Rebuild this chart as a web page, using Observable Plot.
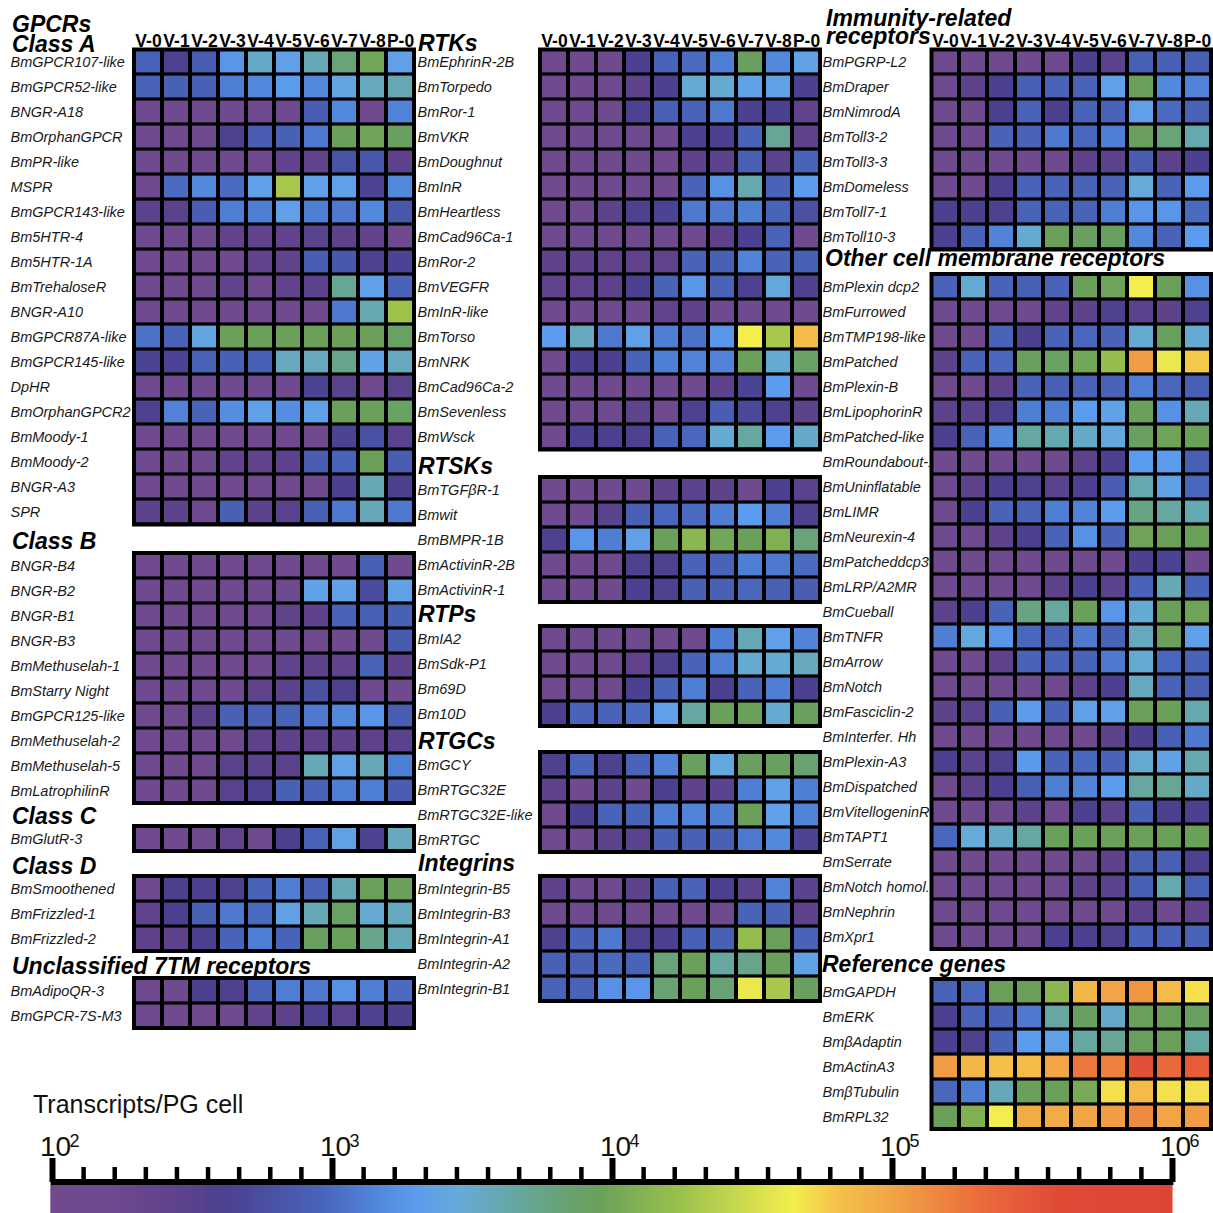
<!DOCTYPE html>
<html><head><meta charset="utf-8">
<script src="https://cdn.jsdelivr.net/npm/d3@7"></script>
<script src="https://cdn.jsdelivr.net/npm/@observablehq/plot@0.6"></script>
<style>
html,body{margin:0;padding:0;background:#fff;}
#root{position:relative;width:1213px;height:1213px;overflow:hidden;font-family:"Liberation Sans",Arial,Helvetica,sans-serif;background:#fff;}
.hd{position:absolute;font-weight:bold;font-style:italic;white-space:nowrap;color:#000;}
#root svg{position:absolute;}
</style></head><body><div id="root"></div>
<script>
// ---------- DATA (transcripts per PG cell) ----------
const stages = ["V-0","V-1","V-2","V-3","V-4","V-5","V-6","V-7","V-8","P-0"];

const classAGenes = ["BmGPCR107-like","BmGPCR52-like","BNGR-A18","BmOrphanGPCR","BmPR-like","MSPR","BmGPCR143-like","Bm5HTR-4","Bm5HTR-1A","BmTrehaloseR","BNGR-A10","BmGPCR87A-like","BmGPCR145-like","DpHR","BmOrphanGPCR2","BmMoody-1","BmMoody-2","BNGR-A3","SPR"];
const classAValues = [
  [900,380,800,1800,3200,2200,3800,6500,10000,2200],
  [900,850,850,1300,1500,2000,1500,2500,3500,3800],
  [140,140,140,140,140,150,800,1500,160,1400],
  [140,140,150,400,800,850,1200,9000,9500,8500],
  [140,140,140,140,150,250,250,650,700,280],
  [150,1000,1500,1000,2200,20000,2200,2200,450,1500],
  [300,300,800,1300,1300,2200,1300,1200,1500,700],
  [140,140,140,250,250,250,300,280,250,150],
  [140,140,140,150,250,250,800,700,400,450],
  [140,140,140,250,160,250,300,5000,2200,900],
  [140,140,140,140,140,150,160,1200,4000,18000],
  [1100,900,2500,9000,9000,9000,9000,9000,9000,8000],
  [450,450,900,850,850,3500,3500,5500,2300,3500],
  [140,140,140,140,150,150,450,300,160,300],
  [400,1400,900,1600,2200,1600,2200,9000,9000,8000],
  [140,140,140,140,140,150,160,450,600,300],
  [140,140,140,250,250,280,800,900,9000,800],
  [140,140,140,140,140,150,160,420,3800,420],
  [280,280,150,850,280,300,850,1200,3800,1200]
];

const classBGenes = ["BNGR-B4","BNGR-B2","BNGR-B1","BNGR-B3","BmMethuselah-1","BmStarry Night","BmGPCR125-like","BmMethuselah-2","BmMethuselah-5","BmLatrophilinR"];
const classBValues = [
  [140,140,140,140,140,140,150,150,850,160],
  [140,140,140,140,140,150,2300,2300,550,2300],
  [140,140,140,140,150,250,280,900,850,850],
  [140,140,140,140,140,140,150,150,160,750],
  [140,140,140,140,150,260,280,270,900,280],
  [140,140,140,150,270,280,600,400,160,150],
  [140,140,300,850,850,900,1200,1500,1800,800],
  [140,140,140,150,280,280,280,280,280,300],
  [140,140,150,300,300,300,3800,2300,3800,1300],
  [140,140,150,300,400,850,900,1300,1300,800]
];

const classCGenes = ["BmGlutR-3"];
const classCValues = [[140,140,150,260,160,420,900,2300,450,3500]];

const classDGenes = ["BmSmoothened","BmFrizzled-1","BmFrizzled-2"];
const classDValues = [
  [150,420,420,400,900,1300,900,3800,9000,9000],
  [260,420,850,1200,1000,2300,3800,8000,3000,3500],
  [280,280,420,900,1300,900,8500,9000,5500,3800]
];

const unclassGenes = ["BmAdipoQR-3","BmGPCR-7S-M3"];
const unclassValues = [
  [150,150,420,380,900,1300,1200,1700,1300,1000],
  [140,140,140,150,260,280,400,300,400,420]
];

const rtkGenes = ["BmEphrinR-2B","BmTorpedo","BmRor-1","BmVKR","BmDoughnut","BmInR","BmHeartless","BmCad96Ca-1","BmRor-2","BmVEGFR","BmInR-like","BmTorso","BmNRK","BmCad96Ca-2","BmSevenless","BmWsck"];
const rtkValues = [
  [140,150,150,420,900,1000,1300,8500,1500,2300],
  [140,150,150,280,420,3000,3000,2300,2300,420],
  [140,140,150,400,850,900,1200,420,420,260],
  [140,140,140,140,150,420,420,900,5000,280],
  [140,140,140,140,150,280,280,850,300,900],
  [140,140,140,140,150,900,1700,4000,900,2000],
  [140,150,280,400,450,1200,1200,1300,900,600],
  [140,140,140,140,140,150,280,420,900,160],
  [280,280,260,260,270,900,850,1400,900,850],
  [260,260,280,420,900,1800,900,400,2700,400],
  [140,140,140,140,260,280,160,150,160,150],
  [2000,3500,1200,2200,1300,1100,1800,45000,20000,70000],
  [150,420,420,900,1300,1400,1400,9000,3000,8000],
  [140,140,140,140,150,150,280,450,2000,160],
  [140,140,150,270,160,400,800,500,400,280],
  [150,420,420,400,900,950,3000,4500,2000,3200]
];

const rtskGenes = ["BmTGFβR-1","Bmwit","BmBMPR-1B","BmActivinR-2B","BmActivinR-1"];
const rtskValues = [
  [140,140,140,150,280,300,280,160,420,300],
  [140,150,300,850,950,1000,1300,2000,1300,400],
  [400,1800,1300,2200,9000,14000,10000,9000,12000,6500],
  [150,150,160,400,400,900,900,1300,1200,1000],
  [150,150,160,420,400,850,850,950,850,800]
];

const rtpGenes = ["BmIA2","BmSdk-P1","Bm69D","Bm10D"];
const rtpValues = [
  [140,140,140,140,150,160,1300,3800,2200,1400],
  [140,140,150,260,400,900,1300,3000,3000,3500],
  [140,140,150,420,900,1300,420,900,1300,420],
  [420,900,900,1000,2200,4500,9000,9000,3000,8500]
];

const rtgcGenes = ["BmGCY","BmRTGC32E","BmRTGC32E-like","BmRTGC"];
const rtgcValues = [
  [400,900,400,900,1400,8500,2600,8500,8500,7000],
  [280,150,280,160,420,280,300,1300,2200,1300],
  [160,420,900,900,1300,1400,1300,9000,2200,1400],
  [150,150,280,300,850,850,850,1200,1500,450]
];

const integrinGenes = ["BmIntegrin-B5","BmIntegrin-B3","BmIntegrin-A1","BmIntegrin-A2","BmIntegrin-B1"];
const integrinValues = [
  [280,160,160,280,850,900,420,300,1400,300],
  [140,140,140,140,140,150,150,900,900,280],
  [400,900,1200,400,420,850,850,16000,9000,900],
  [850,850,1000,900,6500,9000,4500,5500,9000,2300],
  [900,900,1700,1800,7000,9000,7000,40000,20000,8500]
];

const immuneGenes = ["BmPGRP-L2","BmDraper","BmNimrodA","BmToll3-2","BmToll3-3","BmDomeless","BmToll7-1","BmToll10-3"];
const immuneValues = [
  [140,140,140,140,150,420,300,850,850,850],
  [150,280,420,850,900,900,2200,9000,1500,1400],
  [150,160,420,900,420,900,900,2200,1000,900],
  [150,160,900,900,1200,950,1300,8500,6500,4000],
  [140,140,140,150,150,280,300,800,280,420],
  [150,160,420,900,900,900,900,2800,900,2000],
  [420,420,400,900,900,900,1300,1800,1800,1000],
  [420,900,1400,3000,9000,8500,8500,1500,900,2000]
];

const otherGenes = ["BmPlexin dcp2","BmFurrowed","BmTMP198-like","BmPatched","BmPlexin-B","BmLipophorinR","BmPatched-like","BmRoundabout-1","BmUninflatable","BmLIMR","BmNeurexin-4","BmPatcheddcp3","BmLRP/A2MR","BmCueball","BmTNFR","BmArrow","BmNotch","BmFasciclin-2","BmInterfer. Hh","BmPlexin-A3","BmDispatched","BmVitellogeninR","BmTAPT1","BmSerrate","BmNotch homol.","BmNephrin","BmXpr1"];
const otherValues = [
  [900,3000,900,850,900,9000,9500,45000,9000,1700],
  [140,140,150,150,260,280,400,300,280,400],
  [150,150,900,420,900,950,900,3000,8500,3000],
  [280,900,950,8500,8000,10000,16000,110000,40000,60000],
  [150,160,280,900,850,900,900,1300,950,850],
  [280,300,400,1300,1300,2000,2300,9000,1700,3800],
  [420,900,1500,4500,4000,3200,2600,8500,9500,9000],
  [140,140,140,150,150,280,420,2000,2000,850],
  [150,280,420,400,300,420,800,4000,2300,950],
  [150,420,900,900,1300,1400,2000,6000,4500,4000],
  [150,150,280,420,900,1700,900,9500,9000,9000],
  [140,140,140,140,150,150,160,420,450,160],
  [140,140,140,150,280,420,300,900,3800,900],
  [280,420,900,6000,4500,9000,1800,3000,9000,9500],
  [1300,2600,1800,950,900,1200,900,3500,9000,2200],
  [150,160,280,900,900,900,1200,3000,950,900],
  [140,140,140,150,150,280,420,3500,900,850],
  [280,300,850,2000,900,2200,2200,9000,9000,4000],
  [140,140,140,140,150,150,280,420,850,1200],
  [420,300,400,1900,900,950,900,3000,2300,4000],
  [150,280,420,850,1300,1400,2000,4500,5000,3200],
  [140,140,150,280,160,420,300,850,420,420],
  [950,2800,3300,4500,9000,9000,9000,9000,9000,9000],
  [140,140,140,140,140,150,280,850,850,400],
  [140,140,140,140,150,280,300,850,4000,850],
  [140,140,140,140,140,150,160,280,160,260],
  [140,140,150,160,420,420,400,900,900,900]
];

const refGenes = ["BmGAPDH","BmERK","BmβAdaptin","BmActinA3","BmβTubulin","BmRPL32"];
const refValues = [
  [900,950,9000,9000,14000,75000,100000,120000,70000,50000],
  [420,900,900,1200,4500,8500,3200,9000,9000,8500],
  [420,400,900,2000,2200,4500,5000,8500,9000,4500],
  [110000,75000,65000,70000,100000,180000,160000,350000,220000,280000],
  [950,1300,3800,9000,9000,11000,50000,70000,50000,50000],
  [9000,12000,45000,90000,90000,100000,110000,140000,100000,110000]
];

// colour bar ticks
const majorExps = [2,3,4,5,6];
const tickBase = "10";
const tickExpLabels = ["2","3","4","5","6"];

// ---------- COLOUR RAMP ----------
const expStops = [2.0,2.2,2.45,2.63,2.96,3.13,3.3,3.45,3.6,3.75,3.95,4.25,4.65,4.8,5.0,5.3,5.6,6.0];
const colStops = ["#714a8e","#6f4a8f","#5e428c","#4b4191","#4864b9","#5082d7","#5c9cee","#65aad8","#66a8b0","#68a488","#6aa05a","#9cc24c","#f4ee4e","#f4c24a","#f2a546","#eb6e3c","#e04a36","#de4535"];
const pw = d3.scaleLinear().domain(expStops).range(colStops).interpolate(d3.interpolateRgb).clamp(true);
const interp = (t) => pw(2 + 4 * t);

// ---------- LAYOUT ----------
const root = document.getElementById("root");
const BANDX = [133.5, 539.5, 931];
const LBL = [10, 417, 822];
const ROW = 25;
const FONT = '"Liberation Sans", Arial, Helvetica, sans-serif';

function heat(col, bandTop, genes, values, stagesAxis) {
  const svgLeft = LBL[col] - 2;
  const mL = BANDX[col] - svgLeft;
  const mR = 2.5, mB = 2.5;
  const mT = stagesAxis ? 24 : 2.5;
  const cells = genes.flatMap((gene, i) => stages.map((s, j) => ({gene, stage: s, value: values[i][j]})));
  const p = Plot.plot({
    width: mL + 280 + mR,
    height: mT + genes.length * ROW + mB,
    marginLeft: mL, marginRight: mR, marginTop: mT, marginBottom: mB,
    style: {background: "transparent", overflow: "visible", fontFamily: FONT},
    x: {type: "band", domain: stages, padding: 0, axis: null},
    y: {type: "band", domain: genes, padding: 0, axis: null},
    color: {type: "log", domain: [1e2, 1e6], interpolate: interp},
    marks: [
      Plot.text(genes, {y: d => d, text: d => d, frameAnchor: "left", textAnchor: "start", dx: -(mL - 2), fontStyle: "italic", fontSize: 14.5, fill: "#1a1a1a"}),
      Plot.frame({fill: "black", stroke: "none"}),
      Plot.cell(cells, {x: "stage", y: "gene", fill: "value", insetLeft: 2, insetRight: 2, insetTop: 1.6, insetBottom: 1.6}),
      Plot.frame({stroke: "black", strokeWidth: 4, fill: "none"}),
      stagesAxis ? Plot.text(stages, {x: d => d, text: d => d, frameAnchor: "top", lineAnchor: "bottom", dy: -2.5, fontSize: 17.5, fontWeight: "bold", fill: "black"}) : null
    ]
  });
  p.style.left = svgLeft + "px";
  p.style.top = (bandTop - mT) + "px";
  root.append(p);
}

heat(0, 48.5, classAGenes, classAValues, true);
heat(0, 552.5, classBGenes, classBValues, false);
heat(0, 825.5, classCGenes, classCValues, false);
heat(0, 875.5, classDGenes, classDValues, false);
heat(0, 977.5, unclassGenes, unclassValues, false);

heat(1, 48.5, rtkGenes, rtkValues, true);
heat(1, 476.5, rtskGenes, rtskValues, false);
heat(1, 625.5, rtpGenes, rtpValues, false);
heat(1, 751.5, rtgcGenes, rtgcValues, false);
heat(1, 875, integrinGenes, integrinValues, false);

heat(2, 48.5, immuneGenes, immuneValues, true);
heat(2, 273.5, otherGenes, otherValues, false);
heat(2, 978.5, refGenes, refValues, false);

// group headers (tight line boxes so stacked headers do not overlap)
function hd(x, baseline, text, fs = 23) {
  const d = document.createElement("div");
  d.className = "hd";
  d.textContent = text;
  const lh = 0.78 * fs;
  d.style.fontSize = fs + "px";
  d.style.lineHeight = lh + "px";
  d.style.height = lh + "px";
  d.style.left = x + "px";
  d.style.top = (baseline - ((lh - 1.117 * fs) / 2 + 0.905 * fs)) + "px";
  root.append(d);
  return d;
}
hd(12, 33, "GPCRs");
hd(12, 53, "Class A");
hd(12, 550, "Class B");
hd(12, 825, "Class C");
hd(12, 875, "Class D");
hd(12, 975, "Unclassified 7TM receptors");
hd(418, 52, "RTKs");
hd(418, 475, "RTSKs");
hd(418, 623, "RTPs");
hd(418, 750, "RTGCs");
hd(418, 872, "Integrins");
hd(826, 27, "Immunity-related");
hd(826, 45, "receptors");
hd(825, 267, "Other cell membrane receptors");
hd(822, 973, "Reference genes");
const t = hd(33, 1113, "Transcripts/PG cell", 25);
t.style.fontWeight = "normal"; t.style.fontStyle = "normal"; t.style.color = "#111";

// ---------- COLOUR BAR ----------
const slices = d3.range(2, 6, 0.01);
const minorExps = d3.range(0, 36).filter(k => k % 9 !== 0).map(k => 2 + k / 9);
const bar = Plot.plot({
  width: 1213, height: 93,
  marginLeft: 52, marginRight: 41, marginTop: 0, marginBottom: 0,
  style: {background: "transparent", overflow: "visible", fontFamily: FONT},
  x: {type: "linear", domain: [2, 6], axis: null},
  y: {type: "identity", axis: null},
  color: {type: "linear", domain: [2, 6], interpolate: interp},
  marks: [
    Plot.rect(slices, {x1: d => d - 0.006, x2: d => d + 0.012, y1: 65, y2: 93, fill: d => d}),
    Plot.ruleY([61.5], {x1: 1.995, x2: 6.005, stroke: "black", strokeWidth: 6}),
    Plot.ruleX(majorExps, {x: d => d, y1: 38, y2: 62, stroke: "black", strokeWidth: 6}),
    Plot.ruleX(minorExps, {x: d => d, y1: 47, y2: 62, stroke: "black", strokeWidth: 4.5}),
    Plot.text(majorExps, {x: d => d, y: 27, text: () => tickBase, fontSize: 28, dx: 3, fill: "#111"}),
    Plot.text(majorExps, {x: d => d, y: 21, text: (d, i) => tickExpLabels[i], fontSize: 18, textAnchor: "start", dx: 17, fill: "#111"})
  ]
});
bar.style.left = "0px";
bar.style.top = "1120px";
root.append(bar);
</script></body></html>
